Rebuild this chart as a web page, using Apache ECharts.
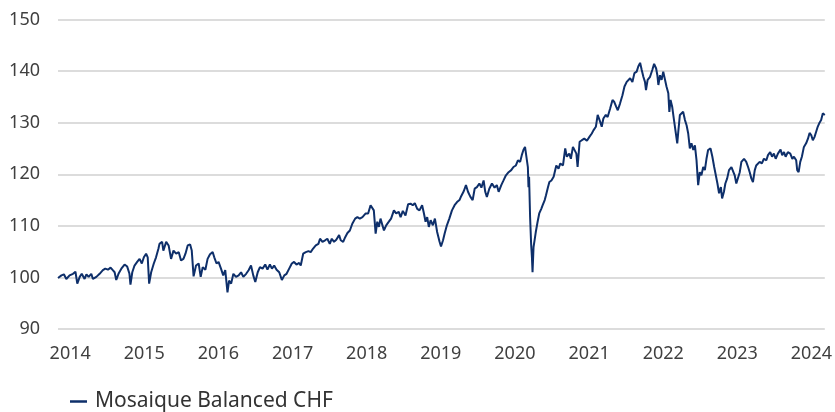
<!DOCTYPE html>
<html>
<head>
<meta charset="utf-8">
<script src="https://cdn.jsdelivr.net/npm/echarts@6/dist/echarts.min.js"></script>
<style>
html,body{margin:0;padding:0;background:#fff;}
#chart{width:835px;height:412px;}
</style>
</head>
<body>
<div id="chart"></div>
<script>
const seriesName = 'Mosaique Balanced CHF';
const yTicks = [90, 100, 110, 120, 130, 140, 150];
const dates = [
'2013-11-02','2013-11-19','2013-12-01','2013-12-13','2013-12-29',
'2014-01-15','2014-01-27','2014-02-05','2014-02-17','2014-02-27','2014-03-13','2014-03-22','2014-04-02','2014-04-15','2014-04-23',
'2014-05-10','2014-05-26','2014-06-11','2014-06-23','2014-07-06','2014-07-19','2014-07-30','2014-08-08','2014-08-16','2014-08-27',
'2014-09-10','2014-09-26','2014-10-09','2014-10-20','2014-10-25','2014-11-03','2014-11-14','2014-11-27','2014-12-09','2014-12-20','2014-12-30',
'2015-01-10','2015-01-18','2015-01-25','2015-02-04','2015-02-17','2015-02-28','2015-03-12','2015-03-17','2015-03-30','2015-04-05','2015-04-19',
'2015-05-01','2015-05-13','2015-05-25','2015-06-07','2015-06-20','2015-07-01','2015-07-13','2015-07-23','2015-08-03','2015-08-15','2015-08-23',
'2015-09-01','2015-09-13','2015-09-26','2015-10-06','2015-10-16','2015-10-29','2015-11-09','2015-11-21','2015-12-04','2015-12-12','2015-12-23',
'2016-01-02','2016-01-14','2016-01-25','2016-02-04','2016-02-15','2016-02-23','2016-03-04','2016-03-15','2016-03-28','2016-04-10','2016-04-22',
'2016-05-03','2016-05-17','2016-05-29','2016-06-10','2016-06-21','2016-07-01','2016-07-13','2016-07-24','2016-08-06','2016-08-19','2016-08-30',
'2016-09-11','2016-09-21','2016-10-02','2016-10-14','2016-10-27','2016-11-09','2016-11-21','2016-12-02','2016-12-15','2016-12-28',
'2017-01-08','2017-01-20','2017-02-02','2017-02-10','2017-02-22','2017-03-07','2017-03-20','2017-03-31','2017-04-12','2017-04-25',
'2017-05-08','2017-05-16','2017-05-28','2017-06-10','2017-06-21','2017-07-03','2017-07-13','2017-07-24','2017-08-04','2017-08-18','2017-08-26',
'2017-09-07','2017-09-17','2017-09-28','2017-10-10','2017-10-22','2017-11-05','2017-11-16','2017-11-28','2017-12-11','2017-12-27',
'2018-01-08','2018-01-20','2018-01-28','2018-02-05','2018-02-14','2018-02-22','2018-03-02','2018-03-10','2018-03-18','2018-03-27',
'2018-04-07','2018-04-20','2018-05-01','2018-05-15','2018-05-26','2018-06-08','2018-06-17','2018-06-28','2018-07-11','2018-07-24',
'2018-08-05','2018-08-16','2018-08-26','2018-09-07','2018-09-18','2018-10-01','2018-10-10','2018-10-18','2018-10-26','2018-11-03',
'2018-11-12','2018-11-23','2018-12-03','2018-12-14','2018-12-26',
'2019-01-02','2019-01-12','2019-01-20','2019-01-31','2019-02-12','2019-02-25','2019-03-10','2019-03-22','2019-04-03','2019-04-12','2019-04-24',
'2019-05-05','2019-05-15','2019-05-27','2019-06-07','2019-06-17','2019-06-28','2019-07-10','2019-07-20','2019-07-31','2019-08-08','2019-08-16',
'2019-08-28','2019-09-10','2019-09-23','2019-10-04','2019-10-13','2019-10-26','2019-11-06','2019-11-18','2019-12-01','2019-12-14','2019-12-25',
'2020-01-06','2020-01-16','2020-01-27','2020-02-04','2020-02-12','2020-02-20','2020-02-27','2020-03-05','2020-03-08','2020-03-11','2020-03-16',
'2020-03-21','2020-03-25','2020-03-28','2020-04-02','2020-04-07','2020-04-13','2020-04-22','2020-04-30','2020-05-10','2020-05-17','2020-05-27',
'2020-06-02','2020-06-12','2020-06-19','2020-06-29','2020-07-10','2020-07-23','2020-08-03','2020-08-12','2020-08-25','2020-09-05','2020-09-13',
'2020-09-25','2020-10-03','2020-10-13','2020-10-21','2020-10-30','2020-11-05','2020-11-15','2020-11-26','2020-12-08','2020-12-21',
'2021-01-03','2021-01-14','2021-01-22','2021-02-03','2021-02-12','2021-02-24','2021-03-04','2021-03-12','2021-03-24','2021-04-02','2021-04-14',
'2021-04-26','2021-05-05','2021-05-14','2021-05-22','2021-06-02','2021-06-14','2021-06-24','2021-07-05','2021-07-13','2021-07-22','2021-08-02',
'2021-08-12','2021-08-23','2021-08-31','2021-09-09','2021-09-17','2021-09-25','2021-10-03','2021-10-08','2021-10-16','2021-10-28','2021-11-08',
'2021-11-17','2021-11-27','2021-12-03','2021-12-08','2021-12-16','2021-12-24',
'2022-01-01','2022-01-09','2022-01-17','2022-01-26','2022-01-31','2022-02-06','2022-02-14','2022-02-23','2022-03-03','2022-03-11','2022-03-16',
'2022-03-24','2022-04-01','2022-04-09','2022-04-18','2022-04-26','2022-05-04','2022-05-12','2022-05-20','2022-05-29','2022-06-06','2022-06-14',
'2022-06-22','2022-06-30','2022-07-08','2022-07-17','2022-07-25','2022-08-02','2022-08-10','2022-08-22','2022-08-31','2022-09-09','2022-09-17',
'2022-09-25','2022-10-03','2022-10-12','2022-10-18','2022-10-27','2022-11-03','2022-11-12','2022-11-21','2022-12-03','2022-12-11','2022-12-19','2022-12-27',
'2023-01-04','2023-01-13','2023-01-21','2023-02-03','2023-02-14','2023-02-23','2023-03-03','2023-03-11','2023-03-19','2023-03-28','2023-04-04',
'2023-04-13','2023-04-21','2023-05-02','2023-05-12','2023-05-24','2023-06-01','2023-06-12','2023-06-21','2023-06-30','2023-07-09','2023-07-20',
'2023-08-02','2023-08-10','2023-08-19','2023-08-27','2023-09-07','2023-09-19','2023-09-29','2023-10-07','2023-10-18','2023-10-23','2023-10-30',
'2023-11-07','2023-11-15','2023-11-25','2023-12-06','2023-12-15','2023-12-23','2023-12-31',
'2024-01-08','2024-01-16','2024-01-24','2024-02-01','2024-02-10','2024-02-18','2024-02-26','2024-03-03','2024-03-07'
];
const values = [
99.9,100.4,100.6,99.7,100.4,
100.7,101.1,98.8,100.1,100.7,99.7,100.6,100.1,100.7,99.7,
100.1,100.7,101.4,101.7,101.5,101.9,101.4,101.0,99.5,100.7,
101.7,102.5,102.1,100.7,98.6,101.0,102.3,103.0,103.6,102.7,103.9,
104.6,103.9,98.8,101.0,102.7,103.9,105.6,106.5,106.9,105.2,106.9,
106.2,103.6,105.2,104.6,104.9,103.3,103.6,104.6,106.2,106.4,105.2,
100.2,102.3,102.7,100.1,102.0,101.5,103.6,104.5,104.9,103.9,102.7,
103.0,101.7,100.4,101.4,97.1,99.4,98.8,100.7,100.1,100.4,101.0,
100.1,100.7,101.4,102.3,100.4,99.1,101.0,102.0,101.7,102.5,101.5,
102.5,101.7,102.3,101.5,101.0,99.5,100.4,100.7,101.7,102.7,
103.0,102.5,102.8,102.3,104.6,104.9,105.1,104.9,105.6,106.2,
106.5,107.5,106.9,107.2,107.5,106.5,107.5,106.9,107.3,108.2,107.2,
106.9,107.8,108.6,109.1,110.4,111.4,111.7,111.4,111.7,112.4,
112.4,114.0,114.3,113.0,108.5,110.8,109.8,111.4,111.1,109.1,
110.1,110.8,111.4,113.0,112.4,112.7,111.7,112.9,112.0,114.2,
114.3,114.0,114.4,113.3,113.0,114.0,112.4,110.8,111.7,109.8,
111.1,110.1,111.4,108.8,106.9,
106.0,107.2,108.5,110.1,111.4,113.0,114.0,114.6,115.0,115.8,116.7,
117.9,116.6,115.6,115.0,117.2,117.5,118.2,117.4,118.8,116.6,115.6,
117.2,118.2,117.4,117.9,116.6,117.9,118.8,119.8,120.4,120.8,121.4,
121.7,122.7,122.4,123.7,124.7,125.3,125.6,121.4,117.5,119.5,111.7,
106.5,103.9,101.0,105.9,107.2,108.8,110.8,112.4,113.3,114.0,115.0,
115.9,117.5,118.5,118.8,119.5,121.7,121.1,122.1,121.7,125.0,123.4,
124.0,123.0,125.3,125.6,124.0,121.4,126.3,126.6,126.9,126.5,
127.3,127.9,128.5,129.2,131.5,130.2,129.2,130.8,131.5,131.1,132.7,
134.4,134.0,133.1,132.4,133.7,135.3,137.0,137.9,137.6,138.6,137.9,
139.6,139.9,140.9,141.6,140.2,138.9,137.9,136.3,138.3,138.9,140.2,
141.4,140.5,139.2,137.3,139.2,138.3,
139.9,139.6,137.0,135.7,132.1,134.4,133.1,130.5,130.2,126.0,128.2,
131.5,131.8,132.1,130.5,129.5,127.9,125.0,126.0,124.7,125.6,122.7,
117.9,120.4,119.8,121.4,120.8,123.0,124.7,125.0,123.4,121.4,121.1,
118.2,116.3,117.5,115.3,116.6,118.2,119.2,120.8,121.4,121.1,119.8,118.2,
117.9,120.4,122.4,123.0,122.4,121.4,120.4,119.2,118.5,120.8,121.7,
121.4,122.4,122.1,123.0,122.7,123.7,124.3,123.4,124.0,123.0,124.0,
124.8,123.7,124.3,123.4,124.3,124.0,123.0,123.4,122.7,120.8,120.4,
122.4,123.4,125.3,126.0,126.9,128.0,127.6,
126.6,127.2,128.2,129.2,130.0,130.5,131.8,132.1,131.5
];

const chart = echarts.init(document.getElementById('chart'), null, {renderer: 'canvas'});
const DAY = 24 * 3600 * 1000;
chart.setOption({
  animation: false,
  backgroundColor: '#ffffff',
  textStyle: {fontFamily: 'Noto Sans'},
  grid: {left: 58, right: 8, top: 19.5, bottom: 83, containLabel: false},
  legend: {
    data: [seriesName],
    left: 65,
    top: 386,
    icon: 'rect',
    itemWidth: 17,
    itemHeight: 2.5,
    textStyle: {fontSize: 21, color: '#333333', fontFamily: 'Noto Sans', padding: [0, 0, 0, 3]}
  },
  xAxis: {
    type: 'time',
    min: dates[0],
    max: dates[dates.length - 1],
    splitNumber: 11,
    minInterval: 300 * DAY,
    maxInterval: 370 * DAY,
    axisLine: {show: false},
    axisTick: {show: false},
    splitLine: {show: false},
    axisLabel: {
      fontSize: 18,
      color: '#404040',
      margin: 16,
      interval: 0,
      hideOverlap: false,
      showMinLabel: false,
      showMaxLabel: false,
      formatter: function (val) {
        const d = new Date(val);
        return (d.getUTCMonth() === 0 && d.getUTCDate() === 1) ? String(d.getUTCFullYear()) : '';
      }
    }
  },
  yAxis: {
    type: 'value',
    min: yTicks[0],
    max: yTicks[yTicks.length - 1],
    interval: 10,
    axisLine: {show: false},
    axisTick: {show: false},
    splitLine: {lineStyle: {color: '#d0d0d0', width: 1.5}},
    axisLabel: {fontSize: 18, color: '#404040', margin: 18}
  },
  series: [{
    name: seriesName,
    type: 'line',
    data: dates.map((d, i) => [d, values[i]]),
    showSymbol: false,
    symbol: 'none',
    lineStyle: {color: '#0e2f6a', width: 2},
    itemStyle: {color: '#0e2f6a'}
  }]
});
</script>
</body>
</html>
